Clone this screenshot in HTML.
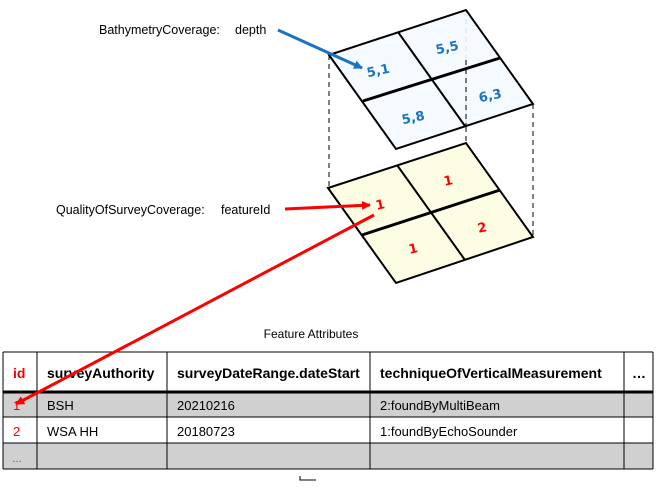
<!DOCTYPE html>
<html><head><style>
body{margin:0;width:657px;height:493px;background:#fff;overflow:hidden;font-family:"Liberation Sans",Arial,sans-serif}
</style></head><body>
<svg width="657" height="493" viewBox="0 0 657 493" xmlns="http://www.w3.org/2000/svg" style="position:absolute;left:0;top:0">
<defs>
<marker id="ab" markerWidth="9" markerHeight="9" refX="8" refY="4.5" orient="auto" markerUnits="userSpaceOnUse"><path d="M0,0 L9,4.5 L0,9 z" fill="#1a73c0"/></marker>
<marker id="ar" markerWidth="9" markerHeight="9" refX="8" refY="4.5" orient="auto" markerUnits="userSpaceOnUse"><path d="M0,0 L9,4.5 L0,9 z" fill="#f00"/></marker>
</defs>
<polygon points="328,188 466,143 533,237 396,283" fill="#fdfde3" stroke="#000" stroke-width="2"/>
<line x1="397" y1="165" x2="465" y2="260" stroke="#000" stroke-width="2"/>
<line x1="362" y1="235" x2="500" y2="190" stroke="#000" stroke-width="3"/>
<line x1="329" y1="55" x2="329" y2="188" stroke="#000" stroke-dasharray="5,4"/>
<line x1="466" y1="10" x2="466" y2="143" stroke="#000" stroke-dasharray="5,4"/>
<line x1="533" y1="104" x2="533" y2="237" stroke="#000" stroke-dasharray="5,4"/>
<polygon points="329,55 466,10 533,104 396,149" fill="#f3fafd" fill-opacity="0.9" stroke="#000" stroke-width="2"/>
<line x1="398" y1="32" x2="465" y2="126" stroke="#000" stroke-width="2"/>
<line x1="363" y1="101" x2="500" y2="58" stroke="#000" stroke-width="3"/>
<line x1="466" y1="60" x2="466" y2="126" stroke="#000" stroke-dasharray="5,4"/>
<g font-family="DejaVu Sans,Verdana,sans-serif" font-weight="bold" font-size="13" fill="#1a73c0" text-anchor="middle">
<text x="378" y="75" transform="rotate(-12 378 70)">5,1</text>
<text x="447" y="52" transform="rotate(-12 447 47)">5,5</text>
<text x="413" y="122" transform="rotate(-12 413 117)">5,8</text>
<text x="490" y="100" transform="rotate(-12 490 95)">6,3</text>
</g>
<g font-family="DejaVu Sans,Verdana,sans-serif" font-weight="bold" font-size="13" fill="#f00" text-anchor="middle">
<text x="380" y="209" transform="rotate(-12 380 204)">1</text>
<text x="448" y="185" transform="rotate(-12 448 180)">1</text>
<text x="413" y="253" transform="rotate(-12 413 248)">1</text>
<text x="482" y="232" transform="rotate(-12 482 227)">2</text>
</g>
<g font-size="12.5" fill="#000">
<text x="99" y="34">BathymetryCoverage:</text>
<text x="235" y="34">depth</text>
<text x="56" y="214">QualityOfSurveyCoverage:</text>
<text x="221" y="214">featureId</text>
<text x="311" y="338" text-anchor="middle" font-size="12">Feature Attributes</text>
</g>
<line x1="278" y1="30" x2="362" y2="68" stroke="#1a73c0" stroke-width="3" marker-end="url(#ab)"/>
<line x1="285" y1="209" x2="370" y2="205" stroke="#f00" stroke-width="3" marker-end="url(#ar)"/>
<rect x="3" y="392" width="650" height="25" fill="#d0d0d0"/>
<rect x="3" y="443" width="650" height="26" fill="#d0d0d0"/>
<g stroke="#000" stroke-width="1">
<line x1="3" y1="352" x2="653" y2="352"/>
<line x1="3" y1="417" x2="653" y2="417"/>
<line x1="3" y1="443" x2="653" y2="443"/>
<line x1="3" y1="469" x2="653" y2="469"/>
<line x1="3" y1="352" x2="3" y2="469"/>
<line x1="37" y1="352" x2="37" y2="469"/>
<line x1="167" y1="352" x2="167" y2="469"/>
<line x1="370" y1="352" x2="370" y2="469"/>
<line x1="624" y1="352" x2="624" y2="469"/>
<line x1="653" y1="352" x2="653" y2="469"/>
</g>
<line x1="3" y1="392" x2="653" y2="392" stroke="#000" stroke-width="3"/>
<g font-size="14" font-weight="bold">
<text x="13" y="378" fill="#f00">id</text>
<text x="47" y="378">surveyAuthority</text>
<text x="177" y="378">surveyDateRange.dateStart</text>
<text x="380" y="378">techniqueOfVerticalMeasurement</text>
<text x="632" y="378">…</text>
</g>
<g font-size="13">
<text x="13" y="410" fill="#f00">1</text>
<text x="47" y="410">BSH</text>
<text x="177" y="410">20210216</text>
<text x="380" y="410">2:foundByMultiBeam</text>
<text x="13" y="436" fill="#f00">2</text>
<text x="47" y="436">WSA HH</text>
<text x="177" y="436">20180723</text>
<text x="380" y="436">1:foundByEchoSounder</text>
<text x="12" y="462" font-size="10" fill="#444">…</text>
</g>
<line x1="374" y1="215" x2="16" y2="404" stroke="#f00" stroke-width="3" marker-end="url(#ar)"/>
<path d="M300,476 V480 H316" stroke="#000" fill="none"/>
</svg>
</body></html>
